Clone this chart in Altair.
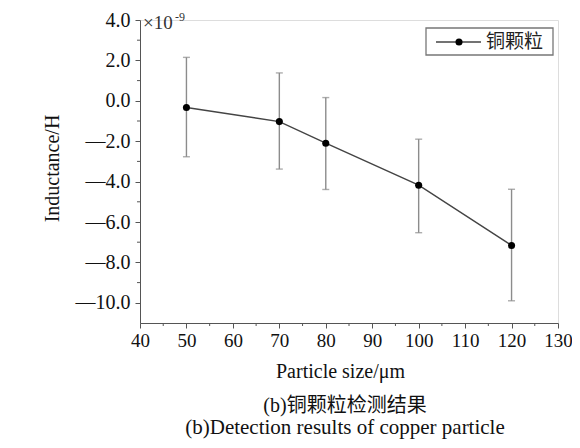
import altair as alt
import pandas as pd

# ---- data ----
sizes = [50, 70, 80, 100, 120]
means = [-0.33, -1.03, -2.10, -4.18, -7.16]
err_hi = [2.15, 1.38, 0.16, -1.90, -4.38]
err_lo = [-2.77, -3.38, -4.39, -6.53, -9.90]
series_name = ["铜颗粒"]
x_ticks = [40, 50, 60, 70, 80, 90, 100, 110, 120, 130]
x_minor = [45, 55, 65, 75, 85, 95, 105, 115, 125]
y_ticks = [4, 2, 0, -2, -4, -6, -8, -10]
y_minor = [3, 1, -1, -3, -5, -7, -9]
captions = ["(b)铜颗粒检测结果", "(b)Detection results of copper particle"]

df = pd.DataFrame({"size": sizes, "mean": means, "hi": err_hi, "lo": err_lo})
df_xm = pd.DataFrame({"v": x_minor})
df_ym = pd.DataFrame({"v": y_minor})
df_leg = pd.DataFrame({"name": series_name})
df_cap = pd.DataFrame({"t": captions, "row": [0, 1]})

W, H = 418, 303
SERIF = "Liberation Serif"
CJK = "Liberation Serif, Noto Sans CJK SC"
AX = "#555555"
xs = alt.Scale(domain=[40, 130], nice=False, zero=False)
ys = alt.Scale(domain=[-11, 4], nice=False, zero=False)

x_axis = alt.Axis(values=x_ticks, format="d", grid=False, labelFont=SERIF, labelFontSize=19,
                  labelColor="#111", tickColor=AX, domainColor=AX, tickSize=5, labelPadding=3,
                  title="Particle size/μm", titleFont=SERIF, titleFontSize=20, titleFontWeight="normal",
                  titleColor="#111", titleX=200, titleY=48, titleBaseline="middle", titleAlign="center",
                  labelFlush=False)
y_axis = alt.Axis(values=y_ticks, grid=False, labelFont=SERIF, labelFontSize=20,
                  labelExpr="datum.value < 0 ? '—' + format(-datum.value, '.1f') : format(datum.value, '.1f')",
                  labelColor="#111", tickColor=AX, domainColor=AX, tickSize=5, labelPadding=5,
                  title="Inductance/H", titleFont=SERIF, titleFontSize=20, titleFontWeight="normal",
                  titleColor="#111", titleX=-88, titleY=148, titleAngle=-90, titleBaseline="middle",
                  titleAlign="center", labelFlush=False)


def X(f):
    return alt.X(f, scale=xs, axis=x_axis)


def Y(f):
    return alt.Y(f, scale=ys, axis=y_axis)


base = alt.Chart(df)
err = base.mark_rule(color="#8c8c8c", strokeWidth=1.4).encode(
    x=X("size:Q"), y=Y("lo:Q"), y2="hi:Q")
cap_hi = base.mark_tick(color="#8c8c8c", thickness=1.4, size=7, orient="horizontal").encode(
    x=X("size:Q"), y=Y("hi:Q"))
cap_lo = base.mark_tick(color="#8c8c8c", thickness=1.4, size=7, orient="horizontal").encode(
    x=X("size:Q"), y=Y("lo:Q"))
line = base.mark_line(color="#444444", strokeWidth=1.4).encode(x=X("size:Q"), y=Y("mean:Q"))
pts = base.mark_circle(size=50, color="#000000", opacity=1).encode(x=X("size:Q"), y=Y("mean:Q"))

xminor = alt.Chart(df_xm).mark_rule(color=AX, strokeWidth=1).encode(
    x=X("v:Q"), y=alt.value(H), y2=alt.value(H + 3))
yminor = alt.Chart(df_ym).mark_rule(color=AX, strokeWidth=1).encode(
    y=Y("v:Q"), x=alt.value(0), x2=alt.value(-3))

# exponent label
exp1 = alt.Chart(df_leg).mark_text(font=SERIF, fontSize=19, align="left", baseline="middle",
                                   color="#333").encode(
    x=alt.value(3), y=alt.value(3), text=alt.value("×10"))
exp2 = alt.Chart(df_leg).mark_text(font=SERIF, fontSize=12, align="left", baseline="middle",
                                   color="#333").encode(
    x=alt.value(35), y=alt.value(-3), text=alt.value("-9"))

# legend
leg_box = alt.Chart(df_leg).mark_rect(fill="white", stroke="#777777", strokeWidth=1.3).encode(
    x=alt.value(286), x2=alt.value(413), y=alt.value(8), y2=alt.value(35))
leg_line = alt.Chart(df_leg).mark_rule(color="#444444", strokeWidth=1.4).encode(
    x=alt.value(296), x2=alt.value(341), y=alt.value(22))
leg_pt = alt.Chart(df_leg).mark_circle(size=50, color="#000000", opacity=1).encode(
    x=alt.value(319), y=alt.value(22))
leg_txt = alt.Chart(df_leg).mark_text(font="Noto Sans CJK SC", fontSize=19, align="left",
                                      baseline="middle", color="#222").encode(
    x=alt.value(346), y=alt.value(22), text="name:N")

# captions
cap1 = alt.Chart(df_cap).transform_filter("datum.row == 0").mark_text(
    font=CJK, fontSize=20, align="center", baseline="middle", color="#111").encode(
    x=alt.value(205), y=alt.value(386), text="t:N")
cap2 = alt.Chart(df_cap).transform_filter("datum.row == 1").mark_text(
    font=SERIF, fontSize=21, align="center", baseline="middle", color="#111").encode(
    x=alt.value(205), y=alt.value(408), text="t:N")

chart = alt.layer(err, cap_hi, cap_lo, line, pts, xminor, yminor, exp1, exp2,
                  leg_box, leg_line, leg_pt, leg_txt, cap1, cap2).properties(
    width=W, height=H,
    autosize=alt.AutoSizeParams(type="none"),
    padding={"left": 132, "top": 12, "right": 14, "bottom": 117},
).configure_view(stroke=None).configure(background="white")

chart.save("out.html", embed_options={"renderer": "svg", "actions": False})
